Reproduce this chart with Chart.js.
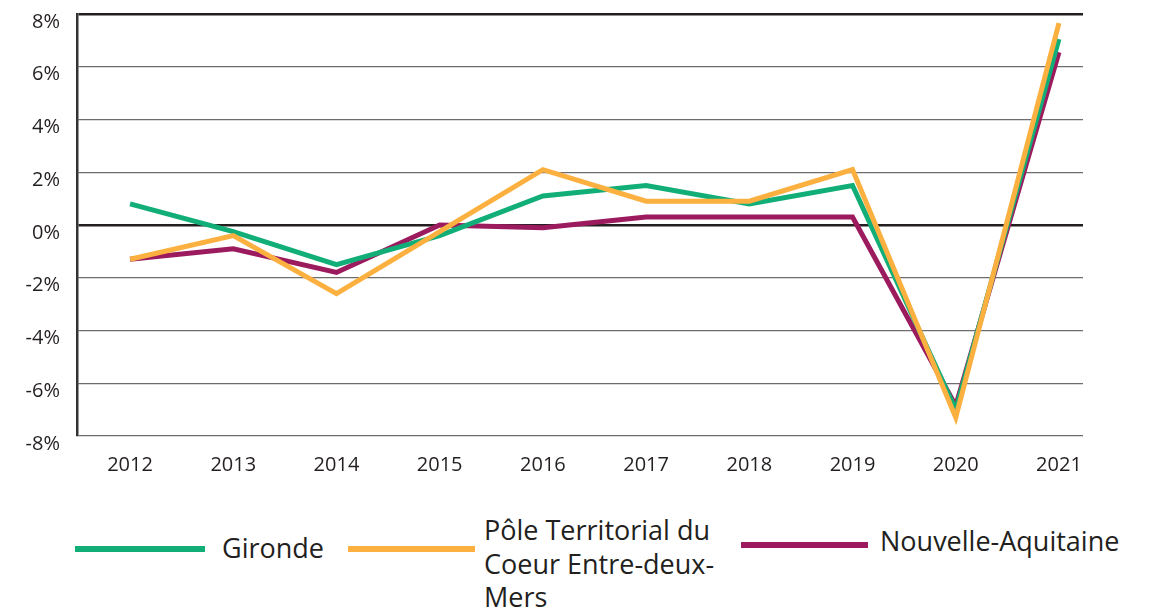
<!DOCTYPE html>
<html>
<head>
<meta charset="utf-8">
<script src="https://cdn.jsdelivr.net/npm/chart.js@4"></script>
<style>
  body { margin: 0; background: #fff; font-family: "Open Sans", sans-serif; }
  #wrap { position: relative; width: 1151px; height: 612px; overflow: hidden; }
  #c { position: absolute; left: 0; top: -15px; }
  .key { position: absolute; height: 6px; }
  .name { position: absolute; font-size: 27px; line-height: 33.5px; color: #231f20; }
</style>
</head>
<body>
<div id="wrap">
  <canvas id="c" width="1151" height="505"></canvas>
  <div id="legend"></div>
</div>
<script>
// growth rate per year, in %
const years = [2012, 2013, 2014, 2015, 2016, 2017, 2018, 2019, 2020, 2021]
const gironde = [0.8, -0.25, -1.5, -0.4, 1.1, 1.5, 0.8, 1.5, -7.0, 7.05]
const pole = [-1.3, -0.4, -2.6, -0.25, 2.1, 0.9, 0.9, 2.1, -7.3, 7.65]
const nouvelleAquitaine = [-1.3, -0.9, -1.8, 0.0, -0.1, 0.3, 0.3, 0.3, -6.85, 6.55]

const names = ['Gironde', 'Pôle Territorial du Coeur Entre-deux-Mers', 'Nouvelle-Aquitaine']
const colors = ['#12ae78', '#fbb040', '#9c1b5e']

// hand placed legend (chart.js legend can't wrap labels)
const keyPos = [
    { line: [75, 546, 130], text: [222, 531, 200] },
    { line: [348, 546, 127], text: [484, 513, 250] },
    { line: [741, 542, 127], text: [880, 524, 270] }
]
const legend = document.getElementById('legend')
names.forEach(function (n, i) {
    let k = document.createElement('div')
    k.className = 'key'
    k.style.left = keyPos[i].line[0] + 'px'
    k.style.top = keyPos[i].line[1] + 'px'
    k.style.width = keyPos[i].line[2] + 'px'
    k.style.background = colors[i]
    legend.appendChild(k)
    let t = document.createElement('div')
    t.className = 'name'
    t.style.left = keyPos[i].text[0] + 'px'
    t.style.top = keyPos[i].text[1] + 'px'
    t.style.width = keyPos[i].text[2] + 'px'
    t.textContent = n
    legend.appendChild(t)
})

function pts(vals) {
    return vals.map(function (v, i) { return { x: years[i], y: v } })
}

function dark(v) { return v === 0 || v === 8 }

new Chart(document.getElementById('c'), {
    type: 'line',
    data: {
        datasets: [
            { label: names[1], data: pts(pole), borderColor: colors[1], order: 0 },
            { label: names[0], data: pts(gironde), borderColor: colors[0], order: 1 },
            { label: names[2], data: pts(nouvelleAquitaine), borderColor: colors[2], order: 2 }
        ]
    },
    options: {
        responsive: false,
        devicePixelRatio: 1,
        animation: false,
        layout: { padding: { top: 13, right: 68, left: 0, bottom: 0 } },
        elements: {
            line: { borderWidth: 5, tension: 0, borderCapStyle: 'butt' },
            point: { radius: 0 }
        },
        plugins: { legend: { display: false }, tooltip: { enabled: false } },
        scales: {
            x: {
                type: 'linear',
                min: 2011.486,
                max: 2021.233,
                grid: { display: false, drawTicks: false },
                border: { display: false },
                ticks: {
                    stepSize: 1,
                    includeBounds: false,
                    padding: 17,
                    color: '#231f20',
                    font: { family: 'Open Sans', size: 20 },
                    callback: function (v) { return String(v) }
                },
                afterFit: function (s) { s.height = 54 }
            },
            y: {
                min: -8,
                max: 8,
                ticks: {
                    stepSize: 2,
                    padding: 17,
                    labelOffset: 8,
                    color: '#231f20',
                    font: { family: 'Open Sans', size: 20 },
                    callback: function (v) { return v + '%' }
                },
                grid: {
                    drawTicks: false,
                    color: function (ctx) { return dark(ctx.tick.value) ? '#231f20' : '#6d6d6d' },
                    lineWidth: function (ctx) { return dark(ctx.tick.value) ? 2.5 : 1.3 }
                },
                border: { display: true, color: '#333', width: 2.5 },
                afterFit: function (s) { s.width = 77 }
            }
        }
    }
})
</script>
</body>
</html>
